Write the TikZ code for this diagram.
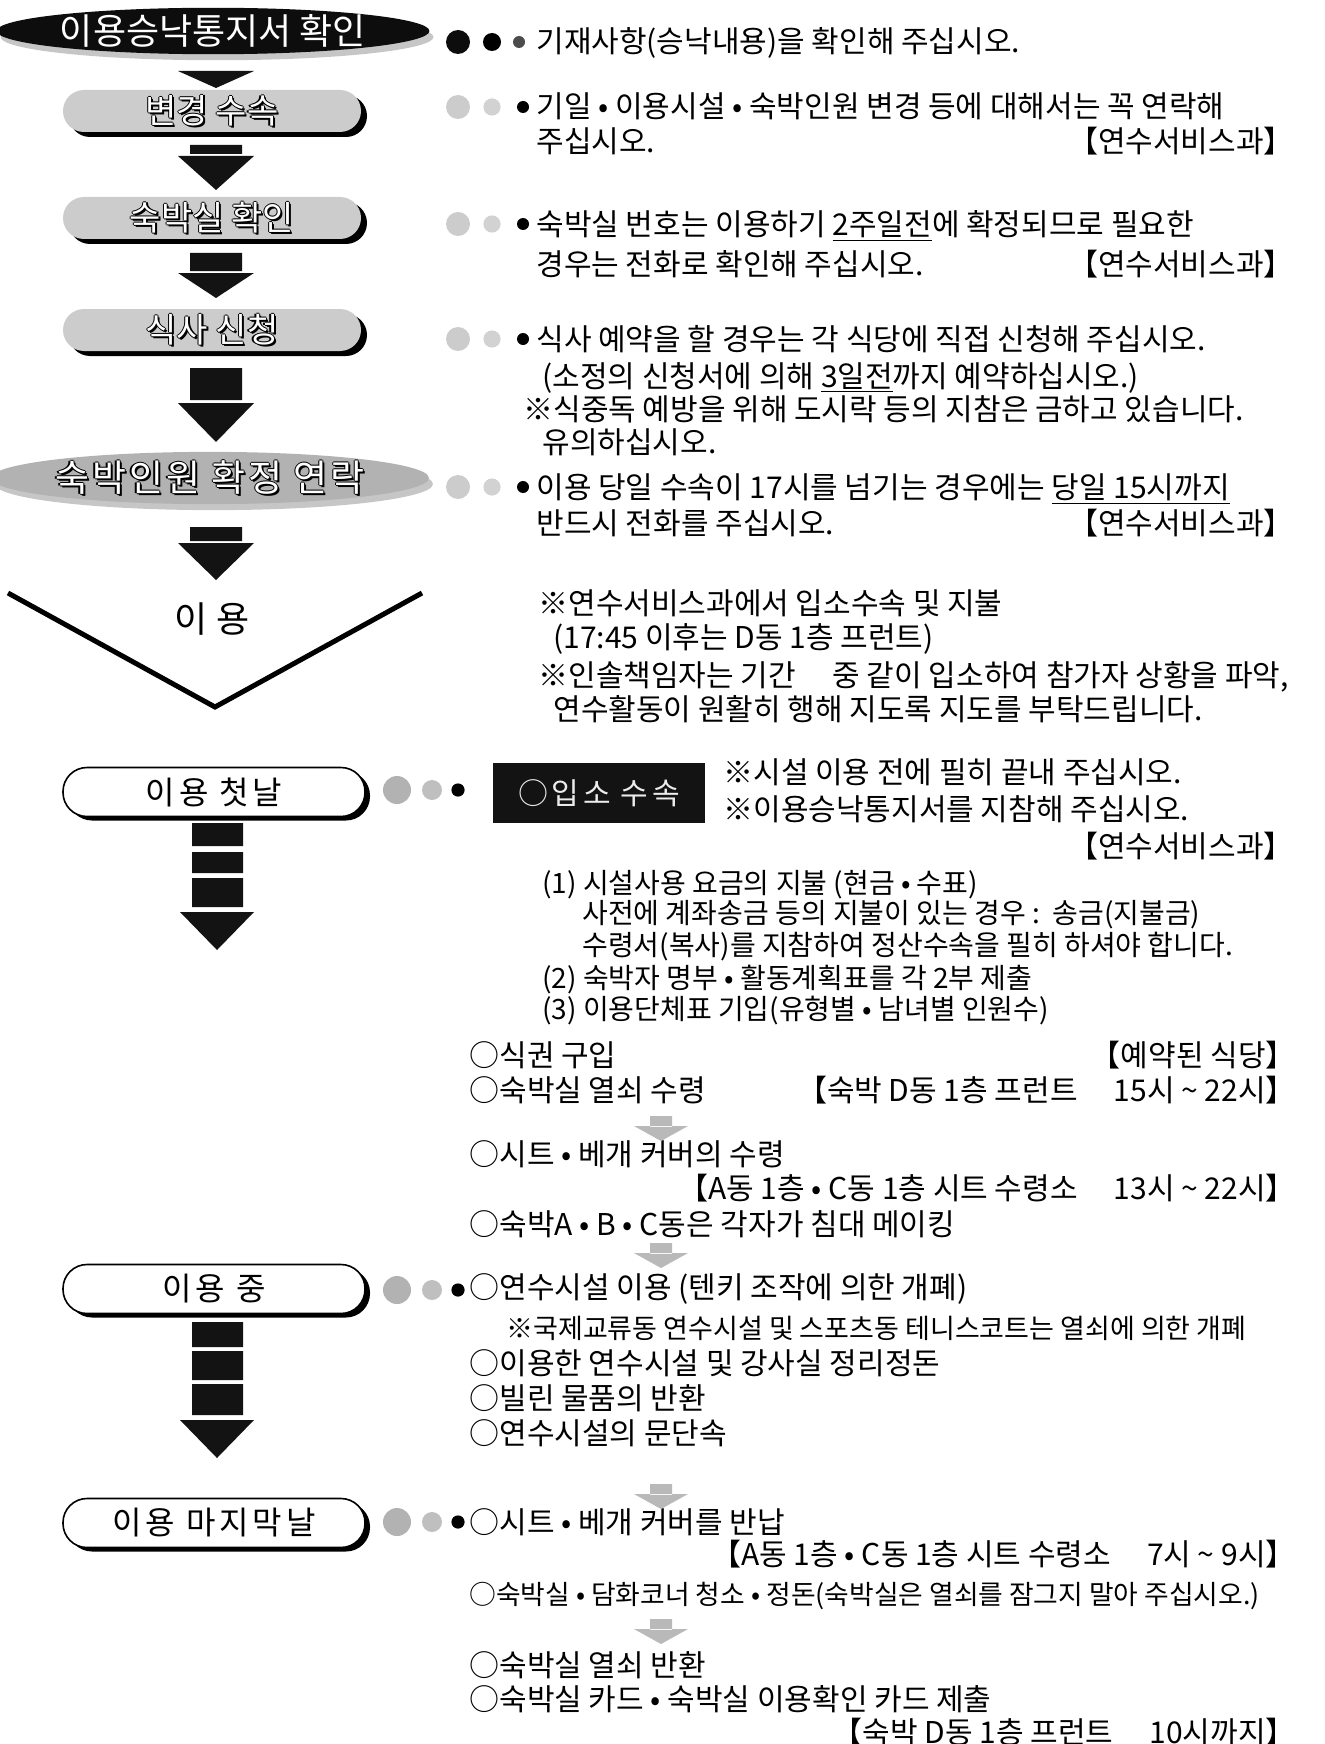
\documentclass[tikz,border=0pt]{standalone}
\usepackage{fontspec}
\setmainfont{Noto Sans CJK KR}
\usetikzlibrary{shapes.geometric,shadows}

% white letters with a dark rim
\newcommand\halo[1]{\rlap{\kern-0.6pt#1}\rlap{\kern0.6pt#1}\rlap{\raisebox{0.6pt}{#1}}\rlap{\raisebox{-0.6pt}{#1}}\rlap{\kern1pt\raisebox{-1pt}{#1}}\textcolor{white}{#1}}

\tikzset{
  txt/.style={anchor=west, inner sep=0pt, text height=12.5pt, text depth=1.5pt, font=\fontsize{15}{18}\selectfont},
  tag/.style={txt, anchor=east},
  oval/.style={ellipse, inner sep=0pt, minimum width=208pt, minimum height=21pt,
    drop shadow={shadow xshift=2pt, shadow yshift=-3pt, fill=gray!45, opacity=1}},
  pill/.style={rectangle, rounded corners=10.5pt, inner sep=0pt, minimum width=149pt, minimum height=21pt,
    fill=gray!40, font=\fontsize{17}{18}\selectfont,
    drop shadow={shadow xshift=3pt, shadow yshift=-2.5pt, fill=black, opacity=1}},
  daypill/.style={rectangle, rounded corners=12pt, inner sep=0pt, minimum width=151pt, minimum height=24.5pt,
    draw, line width=0.8pt, fill=white, font=\fontsize{16}{18}\selectfont\addfontfeature{LetterSpace=12},
    drop shadow={shadow xshift=2.5pt, shadow yshift=-2pt, fill=black, opacity=1}},
  blk/.style={fill=gray!15!black},
  ltarrow/.style={fill=gray!55}
}

\begin{document}
\begin{tikzpicture}[x=0.5pt, y=-0.5pt]
\useasboundingbox (0,0) rectangle (1325,1744);

% steps on the left
\node[oval, fill=gray!10!black, text=white, font=\fontsize{18}{20}\selectfont] (confirm) at (213,31) {이용승낙통지서 확인};
\node[pill] (change) at (212,111) {\halo{변경 수속}};
\node[pill] (room) at (212,218) {\halo{숙박실 확인}};
\node[pill] (meal) at (212,330) {\halo{식사 신청}};
\node[oval, fill=gray!60, font=\fontsize{18.5}{20}\selectfont\addfontfeature{LetterSpace=8}] (count) at (210,478) {\halo{숙박인원 확정 연락}};

\fill[blk] (178,71) -- (254,71) -- (216,88) -- cycle;
\fill[blk] (190,145) rectangle (242,154) (178,156) -- (254,156) -- (216,190) -- cycle;
\fill[blk] (190,253) rectangle (242,271) (178,273) -- (254,273) -- (216,298) -- cycle;
\fill[blk] (190,368) rectangle (242,400) (178,403) -- (254,403) -- (216,442) -- cycle;
\fill[blk] (190,527) rectangle (242,541) (178,543) -- (254,543) -- (216,580) -- cycle;

\draw[line width=2.5pt] (8,593) -- (215,707) -- (422,593);
\node[font=\fontsize{18}{20}\selectfont\addfontfeature{LetterSpace=25}] (use) at (212,619) {이용};

\node[daypill] (first) at (214,792) {이용 첫날};
\node[daypill] (during) at (214,1289) {이용 중};
\node[daypill] (last) at (214,1523) {이용 마지막날};

\fill[blk] (192,823) rectangle (243,846) (192,852) rectangle (243,873) (192,878) rectangle (243,907)
  (180,912) -- (254,912) -- (217,950) -- cycle;
\fill[blk] (192,1322) rectangle (243,1347) (192,1351) rectangle (243,1380) (192,1384) rectangle (243,1415)
  (180,1420) -- (254,1420) -- (217,1458) -- cycle;

% dots
\fill[gray!10!black] (458,42) circle (6pt);
\fill[black] (492,42) circle (4.5pt);
\fill[gray!60!black] (519,42) circle (3pt);
\foreach \y in {107,224,339,487} {
  \fill[gray!40] (458,\y) circle (6pt);
  \fill[gray!35] (492,\y) circle (4.3pt);
  \fill[black] (523,\y) circle (3pt);
}
\foreach \y in {790,1290,1522} {
  \fill[gray!60] (397,\y) circle (7pt);
  \fill[gray!50] (432,\y) circle (5pt);
  \fill[black] (458,\y) circle (3.3pt);
}

% notes
\node[txt] (n1) at (536,42) {기재사항(승낙내용)을 확인해 주십시오.};
\node[txt] (n2a) at (536,107) {기일 • 이용시설 • 숙박인원 변경 등에 대해서는 꼭 연락해};
\node[txt] (n2b) at (536,142) {주십시오.};
\node[tag] (n2c) at (1294,142) {【연수서비스과】};
\node[txt] (n3a) at (536,224) {숙박실 번호는 이용하기 \underline{2주일전}에 확정되므로 필요한};
\node[txt] (n3b) at (536,264) {경우는 전화로 확인해 주십시오.};
\node[tag] (n3c) at (1294,264) {【연수서비스과】};
\node[txt] (n4a) at (536,339) {식사 예약을 할 경우는 각 식당에 직접 신청해 주십시오.};
\node[txt] (n4b) at (542,376) {(소정의 신청서에 의해 \underline{3일전}까지 예약하십시오.)};
\node[txt] (n4c) at (523,409) {※식중독 예방을 위해 도시락 등의 지참은 금하고 있습니다.};
\node[txt] (n4d) at (542,442) {유의하십시오.};
\node[txt] (n5a) at (536,487) {이용 당일 수속이 17시를 넘기는 경우에는 \underline{당일 15시까지}};
\node[txt] (n5b) at (536,523) {반드시 전화를 주십시오.};
\node[tag] (n5c) at (1294,523) {【연수서비스과】};

\node[txt] (u1) at (538,603) {※연수서비스과에서 입소수속 및 지불};
\node[txt] (u2) at (553,637) {(17:45 이후는 D동 1층 프런트)};
\node[txt] (u3) at (538,675) {※인솔책임자는 기간\hspace{1em} 중 같이 입소하여 참가자 상황을 파악,};
\node[txt] (u4) at (553,709) {연수활동이 원활히 행해 지도록 지도를 부탁드립니다.};

\node[fill=gray!15!black, text=gray!15, inner sep=0pt, minimum width=106pt, minimum height=30pt,
  font=\fontsize{15}{18}\selectfont\addfontfeature{LetterSpace=12}] (entry) at (599,793) {○입소 수속};
\node[txt] (f1) at (723,772) {※시설 이용 전에 필히 끝내 주십시오.};
\node[txt] (f2) at (723,809) {※이용승낙통지서를 지참해 주십시오.};
\node[tag] (f3) at (1294,846) {【연수서비스과】};
\node[txt, font=\fontsize{14}{18}\selectfont] (f4) at (542,882) {(1) 시설사용 요금의 지불 (현금 • 수표)};
\node[txt, font=\fontsize{14}{18}\selectfont] (f5) at (582,912) {사전에 계좌송금 등의 지불이 있는 경우 :\ \ 송금(지불금)};
\node[txt, font=\fontsize{14}{18}\selectfont] (f6) at (582,944) {수령서(복사)를 지참하여 정산수속을 필히 하셔야 합니다.};
\node[txt, font=\fontsize{14}{18}\selectfont] (f7) at (542,977) {(2) 숙박자 명부 • 활동계획표를 각 2부 제출};
\node[txt, font=\fontsize{14}{18}\selectfont] (f8) at (542,1008) {(3) 이용단체표 기입(유형별 • 남녀별 인원수)};

\node[txt] (g1) at (469,1055) {○식권 구입};
\node[tag] (g1t) at (1296,1055) {【예약된 식당】};
\node[txt] (g2) at (469,1090) {○숙박실 열쇠 수령};
\node[tag] (g2t) at (1296,1090) {【숙박 D동 1층 프런트\hspace{1.2em}15시 \textasciitilde{} 22시】};
\node[txt] (g3) at (469,1154) {○시트 • 베개 커버의 수령};
\node[tag] (g3t) at (1296,1188) {【A동 1층 • C동 1층 시트 수령소\hspace{1.2em}13시 \textasciitilde{} 22시】};
\node[txt] (g4) at (469,1224) {○숙박A • B • C동은 각자가 침대 메이킹};

\node[txt] (d1) at (469,1287) {○연수시설 이용 (텐키 조작에 의한 개폐)};
\node[txt, font=\fontsize{13.5}{16}\selectfont] (d2) at (506,1327) {※국제교류동 연수시설 및 스포츠동 테니스코트는 열쇠에 의한 개폐};
\node[txt] (d3) at (469,1363) {○이용한 연수시설 및 강사실 정리정돈};
\node[txt] (d4) at (469,1398) {○빌린 물품의 반환};
\node[txt] (d5) at (469,1433) {○연수시설의 문단속};

\node[txt] (l1) at (469,1522) {○시트 • 베개 커버를 반납};
\node[tag] (l1t) at (1296,1554) {【A동 1층 • C동 1층 시트 수령소\hspace{1.2em}7시 \textasciitilde{} 9시】};
\node[txt, font=\fontsize{13.4}{16}\selectfont] (l2) at (469,1593) {○숙박실 • 담화코너 청소 • 정돈(숙박실은 열쇠를 잠그지 말아 주십시오.)};
\node[txt] (l3) at (469,1665) {○숙박실 열쇠 반환};
\node[txt] (l4) at (469,1699) {○숙박실 카드 • 숙박실 이용확인 카드 제출};
\node[tag] (l4t) at (1296,1732) {【숙박 D동 1층 프런트\hspace{1.2em}10시까지】};

% small grey arrows
\foreach \y in {1116,1243,1484,1619} {
  \fill[ltarrow] (650,\y) rectangle (672,\y+11) (634,\y+10) -- (688,\y+10) -- (661,\y+25) -- cycle;
}
\end{tikzpicture}
\end{document}
